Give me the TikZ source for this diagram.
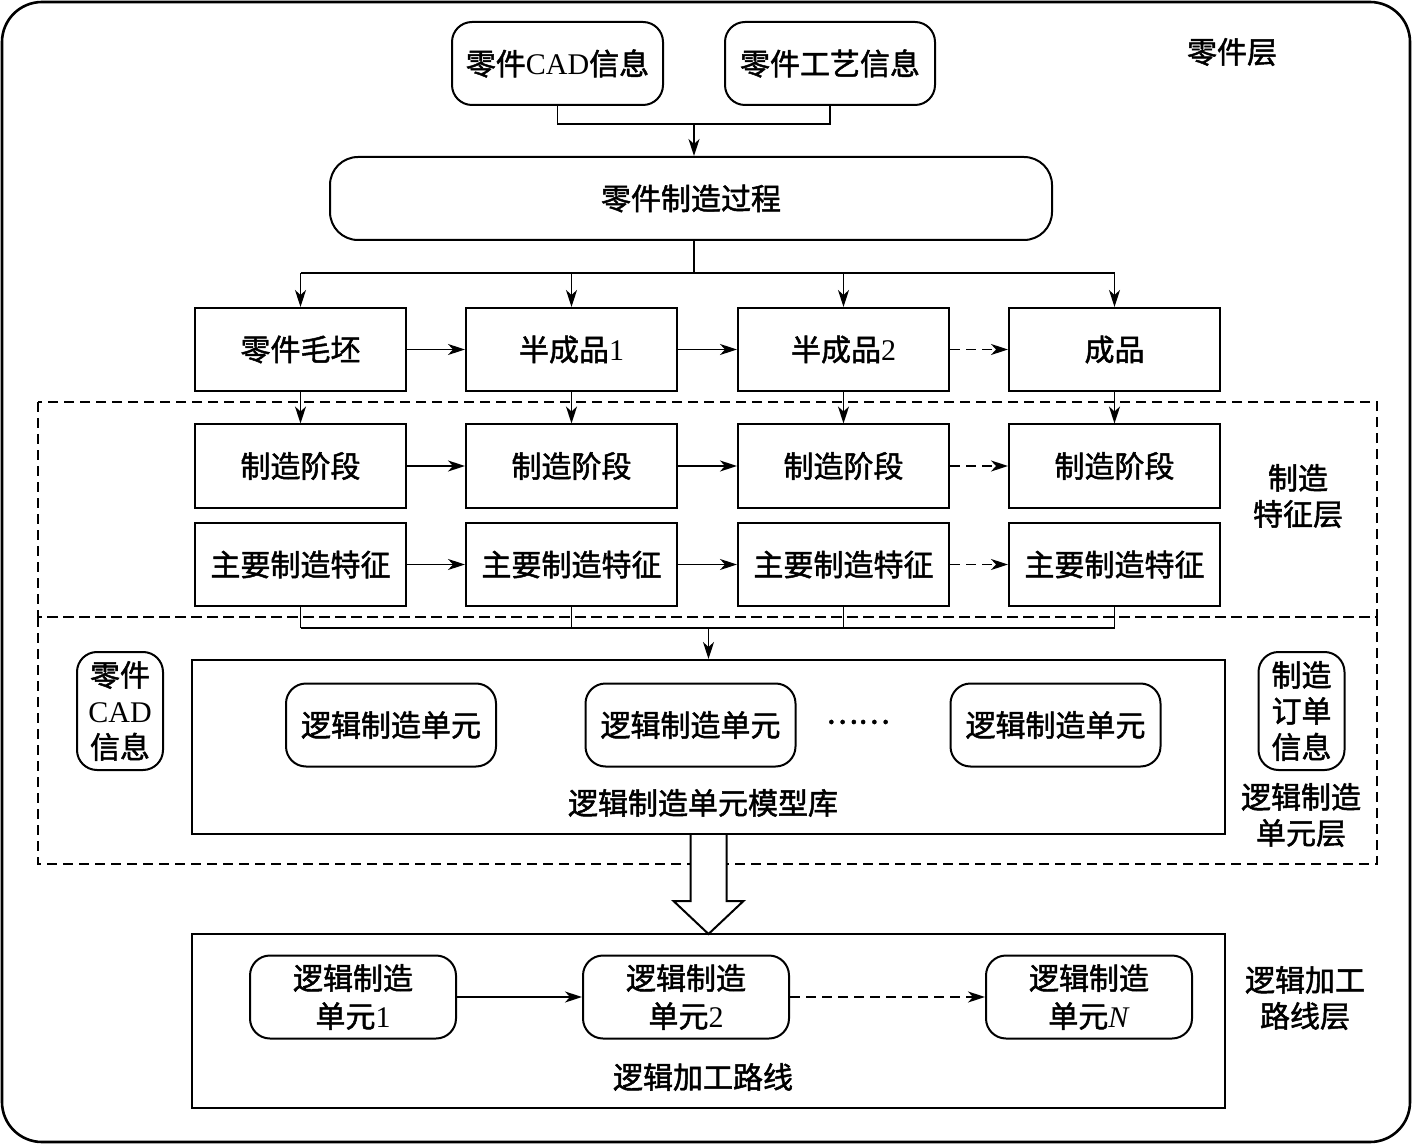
\documentclass[tikz,border=0pt]{standalone}
\usepackage{fontspec}
\setmainfont{Liberation Serif}
\newfontfamily\cjk[FakeBold=1.6]{Noto Sans CJK SC}
\usetikzlibrary{arrows.meta}
\newcommand\fs{\fontsize{15pt}{18pt}\selectfont\cjk}
\newcommand\lat[1]{{\rmfamily #1}}
\begin{document}
\begin{tikzpicture}[x=0.5pt,y=-0.5pt,
  line width=0.9pt,
  box/.style={draw, line width=1pt, minimum width=105.5pt, minimum height=41.5pt, inner sep=0pt, font=\fs},
  rbox/.style={draw, line width=1pt, rounded corners=10pt, minimum width=105pt, minimum height=41.5pt, inner sep=0pt, align=center, font=\fs},
  sbox/.style={draw, line width=1pt, rounded corners=10pt, minimum width=43pt, minimum height=59pt, inner sep=0pt, align=center, font=\fs},
  lbl/.style={align=center, inner sep=0pt, font=\fs},
  arr/.style={-{Stealth[length=8.5pt,width=5.5pt,inset=2.5pt]}},
  dsh/.style={dash pattern=on 5pt off 3pt}]
\useasboundingbox (0,0) rectangle (1413,1144);
% outer frame
\draw[line width=1.3pt, rounded corners=20pt] (2,2) rectangle (1410,1142);
% dashed layers
\draw[dsh] (38,402) rectangle (1377,617);
\draw[dsh] (38,617) rectangle (1377,864);
% top
\node[rbox, minimum width=105.5pt] (cad) at (557.5,63.5) {零件\lat{CAD}信息};
\node[rbox, minimum width=105pt] (craft) at (830,63.5) {零件工艺信息};
\node[draw, line width=1pt, rounded corners=14pt, minimum width=361pt, minimum height=41.5pt, inner sep=0pt, font=\fs] (proc) at (691,198.5) {零件制造过程};
\node[lbl] (l1) at (1232,52) {零件层};
\coordinate (j1) at (694,124);
\draw (cad.south) |- (craft.south |- j1) -- (craft.south);
\draw[arr] (j1) -- (j1 |- proc.north);
% row 1
\node[box] (b1) at (300.5,349.5) {零件毛坯};
\node[box] (b2) at (571.5,349.5) {半成品\lat{1}};
\node[box] (b3) at (843.5,349.5) {半成品\lat{2}};
\node[box] (b4) at (1114.5,349.5) {成品};
\coordinate (j2) at (694,273);
\draw (j2 |- proc.south) -- (j2);
\draw (b1.north |- j2) -- (b4.north |- j2);
\foreach \n in {b1,b2,b3,b4} \draw[arr] (\n.north |- j2) -- (\n.north);
\draw[arr] (b1) -- (b2);
\draw[arr] (b2) -- (b3);
\draw[arr, dsh] (b3) -- (b4);
% row 2
\node[box] (c1) at (300.5,466) {制造阶段};
\node[box] (c2) at (571.5,466) {制造阶段};
\node[box] (c3) at (843.5,466) {制造阶段};
\node[box] (c4) at (1114.5,466) {制造阶段};
\draw[arr] (b1) -- (c1);
\draw[arr] (b2) -- (c2);
\draw[arr] (b3) -- (c3);
\draw[arr] (b4) -- (c4);
\draw[arr] (c1) -- (c2);
\draw[arr] (c2) -- (c3);
\draw[arr, dsh] (c3) -- (c4);
% row 3
\node[box] (d1) at (300.5,564.5) {主要制造特征};
\node[box] (d2) at (571.5,564.5) {主要制造特征};
\node[box] (d3) at (843.5,564.5) {主要制造特征};
\node[box] (d4) at (1114.5,564.5) {主要制造特征};
\draw[arr] (d1) -- (d2);
\draw[arr] (d2) -- (d3);
\draw[arr, dsh] (d3) -- (d4);
\node[lbl] (l2) at (1298,496) {制造\\特征层};
\coordinate (j3) at (708.5,628);
\foreach \n in {d1,d2,d3,d4} \draw (\n.south) -- (\n.south |- j3);
\draw (d1.south |- j3) -- (d4.south |- j3);
% library
\node[draw, line width=1pt, minimum width=516.5pt, minimum height=87pt, inner sep=0pt] (lib) at (708.5,747) {};
\draw[arr] (j3) -- (lib.north);
\node[rbox] (m1) at (391,725) {逻辑制造单元};
\node[rbox] (m2) at (690.5,725) {逻辑制造单元};
\node[rbox] (m3) at (1055.5,725) {逻辑制造单元};
\node[lbl] (dots) at (858,722) {……};
\node[lbl] (libl) at (703,803) {逻辑制造单元模型库};
\node[sbox] (pc) at (120,711) {零件\\\lat{CAD}\\信息};
\node[sbox] (mo) at (1301.5,711) {制造\\订单\\信息};
\node[lbl] (l3) at (1301,815) {逻辑制造\\单元层};
% hollow arrow
\draw[fill=white, line width=1pt, line join=miter] (lib.south) ++(-18,0) -- ++(0,66) -- ++(-17,0) -- ++(35,33) -- ++(35,-33) -- ++(-17,0) -- ++(0,-66);
% route
\node[draw, line width=1pt, minimum width=516.5pt, minimum height=87pt, inner sep=0pt] (route) at (708.5,1021) {};
\node[rbox, minimum width=103pt, font=\fontsize{15pt}{19pt}\selectfont\cjk] (u1) at (353,997) {逻辑制造\\单元\lat{1}};
\node[rbox, minimum width=103pt, font=\fontsize{15pt}{19pt}\selectfont\cjk] (u2) at (686,997) {逻辑制造\\单元\lat{2}};
\node[rbox, minimum width=103pt, font=\fontsize{15pt}{19pt}\selectfont\cjk] (uN) at (1089,997) {逻辑制造\\单元\lat{\textit{N}}};
\draw[arr] (u1) -- (u2);
\draw[arr, dsh] (u2) -- (uN);
\node[lbl] (routel) at (703,1077) {逻辑加工路线};
\node[lbl] (l4) at (1305,998) {逻辑加工\\路线层};
\end{tikzpicture}
\end{document}
